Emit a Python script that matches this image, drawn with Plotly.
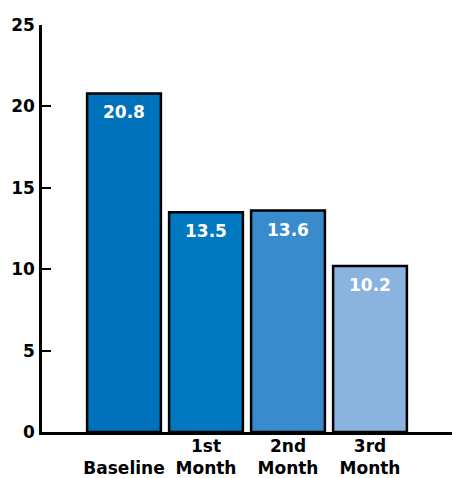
import plotly.graph_objects as go

categories = ["<br>Baseline", "1st<br>Month", "2nd<br>Month", "3rd<br>Month"]
values = [20.8, 13.5, 13.6, 10.2]
bar_colors = ["#0072BC", "#0079C1", "#398BCB", "#8AB3DF"]
y_ticks = [0, 5, 10, 15, 20, 25]

FONT = "DejaVu Sans"

fig = go.Figure()
fig.add_trace(go.Bar(
    x=list(range(len(categories))),
    y=values,
    width=0.9,
    marker=dict(color=bar_colors, line=dict(color="black", width=2.5)),
    hoverinfo="skip",
))

for i, v in enumerate(values):
    fig.add_annotation(
        x=i, y=v, text="<b>%.1f</b>" % v, showarrow=False,
        yanchor="top", yshift=-7,
        font=dict(family=FONT, size=17, color="white"),
    )

fig.update_layout(
    width=452, height=478,
    margin=dict(l=42, r=0, t=25, b=46),
    plot_bgcolor="white", paper_bgcolor="white",
    showlegend=False,
    xaxis=dict(
        range=[-1, 4],
        tickmode="array",
        tickvals=list(range(len(categories))),
        ticktext=["<b>%s</b>" % c for c in categories],
        tickfont=dict(family=FONT, size=17, color="black"),
        showline=True, linecolor="black", linewidth=2.5,
        showgrid=False, zeroline=False, ticks="",
        ticklabelstandoff=-3,
        automargin=False,
        fixedrange=True,
    ),
    yaxis=dict(
        range=[0, 25],
        tickmode="array",
        tickvals=y_ticks,
        ticktext=["<b>%d</b>" % t for t in y_ticks],
        tickfont=dict(family=FONT, size=17, color="black"),
        showline=True, linecolor="black", linewidth=2.5,
        ticks="inside", ticklen=9, tickwidth=2, tickcolor="black",
        showgrid=False, zeroline=False,
        ticklabelstandoff=1,
        automargin=False,
        fixedrange=True,
    ),
)

fig.write_html(
    "out.html",
    config={"displayModeBar": False},
    post_script="document.body.style.margin='0';document.body.style.overflow='hidden';",
)
